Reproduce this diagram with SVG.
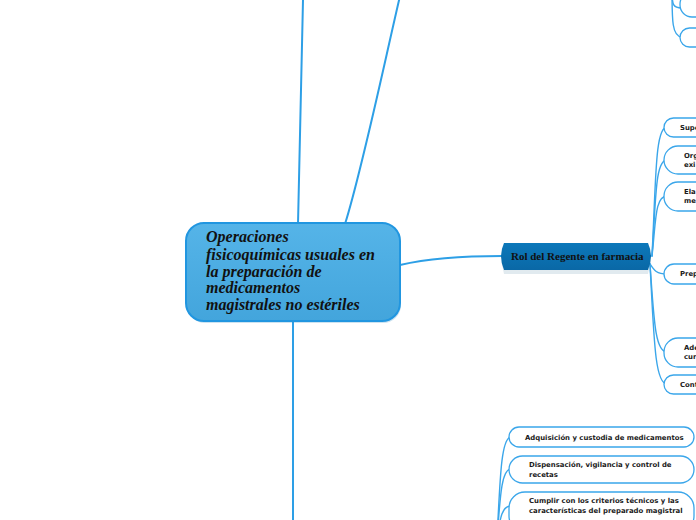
<svg xmlns="http://www.w3.org/2000/svg" width="696" height="520" viewBox="0 0 696 520">
<defs>
<linearGradient id="gMain" x1="0" y1="0" x2="0" y2="1">
<stop offset="0" stop-color="#55b4e8"/>
<stop offset="1" stop-color="#43a5dc"/>
</linearGradient>
<linearGradient id="gRol" x1="0" y1="0" x2="0" y2="1">
<stop offset="0" stop-color="#0c78ba"/>
<stop offset="1" stop-color="#0a68a6"/>
</linearGradient>
</defs>
<style>
.con{fill:none;stroke:#2d9fe6;stroke-width:2;stroke-linecap:round}
.con2{fill:none;stroke:#3aa6ea;stroke-width:1.4;stroke-linecap:round}
.pill{fill:#ffffff;stroke:#3aa6ea;stroke-width:1.3}
.pt{font-family:"DejaVu Sans",Verdana,sans-serif;font-weight:bold;font-size:6.9px;fill:#1a1a1a}
.main{font-family:"Liberation Serif","Times New Roman",serif;font-weight:bold;font-style:italic;font-size:16px;fill:#111}
.rol{font-family:"Liberation Serif","Times New Roman",serif;font-weight:bold;font-size:11px;fill:#111}
</style>
<rect width="696" height="520" fill="#ffffff"/>
<g id="connectors">
<path class="con" d="M298,224 L303,0"/>
<path class="con" d="M345,224 C362,170 385,60 400,-4"/>
<path class="con" d="M293,321 L293,520"/>
<path class="con" d="M400,265 C430,258 460,256 502,256"/>
<path class="con2" d="M652,256 C656,180 655,127 667,127"/>
<path class="con2" d="M652,256 C656,200 655,160 667,160"/>
<path class="con2" d="M652,256 C656,220 655,196 667,196"/>
<path class="con2" d="M650,264 C654,270 656,274 667,274"/>
<path class="con2" d="M650,264 C654,320 655,352 667,352"/>
<path class="con2" d="M650,264 C654,340 655,384 667,384"/>
<path class="con2" d="M672,-10 C672,5 673,8 682,8"/>
<path class="con2" d="M672,-10 C672,20 672,37 682,37"/>
<path class="con2" d="M497,540 C500,480 501,437 511,437"/>
<path class="con2" d="M497,540 C500,500 501,469 511,469"/>
<path class="con2" d="M497,540 C500,520 501,506 511,506"/>
</g>
<g id="central">
<rect x="187" y="225" width="214" height="98" rx="18" fill="#2f8cc4" opacity="0.25"/>
<rect x="186" y="223" width="214" height="98" rx="18" fill="url(#gMain)" stroke="#2196e0" stroke-width="2"/>
<text class="main" x="206" y="242">Operaciones</text>
<text class="main" x="206" y="260">fisicoquímicas usuales en</text>
<text class="main" x="206" y="277">la preparación de</text>
<text class="main" x="206" y="293">medicamentos</text>
<text class="main" x="206" y="310">magistrales no estériles</text>
</g>
<g id="rol">
<path d="M504,246 Q500,258 504,272 L648,272 Q652,258 648,246 Z" fill="#06507f" opacity="0.12" transform="translate(0,2)"/>
<path d="M504,243 Q498,256 504,270 L648,270 Q654,256 648,243 Z" fill="url(#gRol)"/>
<text class="rol" x="511" y="260">Rol del Regente en farmacia</text>
</g>
<g id="n-top1"><rect class="pill" x="680" y="-8" width="60" height="25" rx="12"/></g>
<g id="n-top2"><rect class="pill" x="680" y="28" width="60" height="19" rx="9.5"/></g>
<g id="n-supe"><rect class="pill" x="664" y="118" width="60" height="19" rx="9.5"/><text class="pt" x="680" y="130">Supe</text></g>
<g id="n-org"><rect class="pill" x="664" y="146" width="60" height="28" rx="14"/><text class="pt" x="684" y="158">Org</text><text class="pt" x="684" y="167">exi</text></g>
<g id="n-ela"><rect class="pill" x="664" y="182" width="60" height="29" rx="14"/><text class="pt" x="684" y="194">Ela</text><text class="pt" x="684" y="203">me</text></g>
<g id="n-prep"><rect class="pill" x="664" y="264" width="60" height="20" rx="10"/><text class="pt" x="680" y="276">Prep</text></g>
<g id="n-ade"><rect class="pill" x="664" y="338" width="60" height="29" rx="14"/><text class="pt" x="684" y="350">Ade</text><text class="pt" x="684" y="359">cur</text></g>
<g id="n-cont"><rect class="pill" x="664" y="375" width="60" height="19" rx="9.5"/><text class="pt" x="680" y="387">Cont</text></g>
<g id="n-adq"><rect class="pill" x="509" y="427" width="185" height="20" rx="10"/><text class="pt" x="525" y="440">Adquisición y custodia de medicamentos</text></g>
<g id="n-disp"><rect class="pill" x="509" y="456" width="185" height="27" rx="13.5"/><text class="pt" x="529" y="467">Dispensación,  vigilancia y control de</text><text class="pt" x="529" y="477">recetas</text></g>
<g id="n-cump"><rect class="pill" x="509" y="492" width="185" height="40" rx="16"/><text class="pt" x="529" y="503">Cumplir con los criterios técnicos y las</text><text class="pt" x="529" y="513">características del preparado magistral</text></g>
</svg>
